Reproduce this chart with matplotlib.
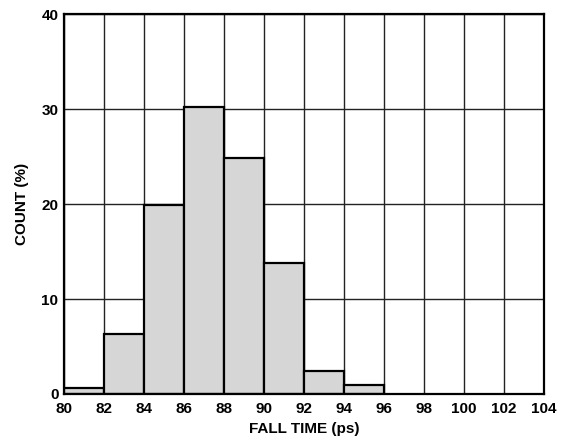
import matplotlib
matplotlib.use("Agg")
import matplotlib.pyplot as plt
import numpy as np

bin_edges = [80, 82, 84, 86, 88, 90, 92, 94, 96]
counts = [0.6, 6.3, 19.9, 30.2, 24.8, 13.8, 2.4, 1.0]
xticks = [80, 82, 84, 86, 88, 90, 92, 94, 96, 98, 100, 102, 104]
yticks = [0, 10, 20, 30, 40]

plt.rcParams['font.family'] = ['Liberation Sans', 'DejaVu Sans']
fig = plt.figure(figsize=(5.68, 4.42), dpi=100)
ax = fig.add_axes([0.1127, 0.1086, 0.845, 0.8594])

ax.grid(True, color='#222222', linewidth=1.0)
ax.set_axisbelow(True)
ax.bar(bin_edges[:-1], counts, width=np.diff(bin_edges), align='edge',
       color='#d6d6d6', edgecolor='black', linewidth=1.6, zorder=3)

ax.set_xlim(80, 104)
ax.set_ylim(0, 40)
ax.set_xticks(xticks)
ax.set_yticks(yticks)
ax.set_xticklabels([str(t) for t in xticks], fontsize=11, fontweight='bold')
ax.set_yticklabels([str(t) for t in yticks], fontsize=11, fontweight='bold')
ax.tick_params(axis='x', length=0, pad=6)
ax.tick_params(axis='y', length=0, pad=4)
for s in ax.spines.values():
    s.set_linewidth(1.6)
    s.set_zorder(4)
ax.set_xlabel('FALL TIME (ps)', fontsize=11, fontweight='bold', labelpad=4)
ax.set_ylabel('COUNT (%)', fontsize=11, fontweight='bold', labelpad=9)

fig.savefig('out.png', dpi=100)
